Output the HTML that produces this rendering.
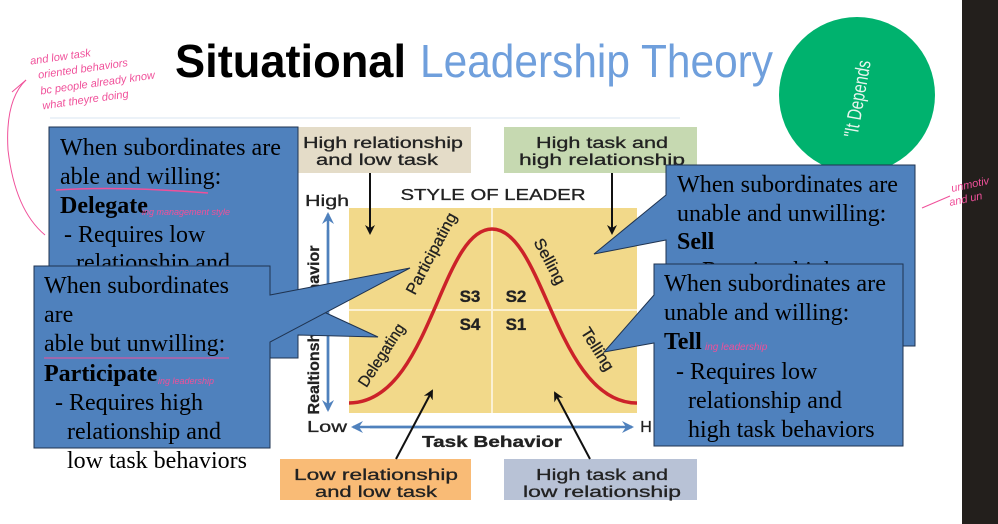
<!DOCTYPE html>
<html><head><meta charset="utf-8"><style>
html,body{margin:0;padding:0;background:#fff;}
svg{display:block;}
.t{font-family:"Liberation Serif",serif;font-size:24px;fill:#000;}
.s{font-family:"Liberation Sans",sans-serif;}
.p{font-family:"Liberation Sans",sans-serif;font-style:italic;fill:#f0509a;}
</style></head><body>
<svg width="998" height="524" viewBox="0 0 998 524" xmlns="http://www.w3.org/2000/svg">
<defs>
<marker id="ab" markerWidth="10" markerHeight="10" refX="8" refY="5" orient="auto" markerUnits="userSpaceOnUse"><path d="M0,0 L10,5 L0,10 L3,5z" fill="#111"/></marker>
<marker id="au" markerWidth="12" markerHeight="12" refX="10" refY="6" orient="auto" markerUnits="userSpaceOnUse"><path d="M0,0 L12,6 L0,12 L4,6z" fill="#4f81bd"/></marker>
</defs>
<rect x="962" y="0" width="36" height="524" fill="#231f1c"/>
<!-- title -->
<text x="175" y="77" class="s" font-size="46" font-weight="bold" textLength="231" lengthAdjust="spacingAndGlyphs">Situational</text>
<text x="420" y="77" class="s" font-size="46" fill="#6f9fdc" textLength="353" lengthAdjust="spacingAndGlyphs">Leadership Theory</text>
<line x1="50" y1="118" x2="680" y2="118" stroke="#e6edf5" stroke-width="1.5"/>
<circle cx="857" cy="95" r="78" fill="#00b26e"/>
<text x="0" y="0" class="s" font-size="20" fill="#e8f5ee" transform="translate(864,100) rotate(-80)" text-anchor="middle" textLength="78" lengthAdjust="spacingAndGlyphs">"It Depends</text>
<!-- handwriting -->
<g transform="rotate(-8 100 70)">
<text x="32" y="55" class="p" font-size="11">and low task</text>
<text x="38" y="70" class="p" font-size="11">oriented behaviors</text>
<text x="38" y="86" class="p" font-size="11">bc people already know</text>
<text x="38" y="101" class="p" font-size="11">what theyre doing</text>
</g>
<path d="M26,80 Q5,100 8,150 Q15,210 45,235" fill="none" stroke="#f0509a" stroke-width="1"/>
<path d="M12,92 L26,80" stroke="#f0509a" stroke-width="1"/>
<path d="M922,208 L950,196" stroke="#f0509a" stroke-width="1"/>
<text x="952" y="192" class="p" font-size="11" transform="rotate(-12 952 192)">unmotiv</text>
<text x="950" y="206" class="p" font-size="11" transform="rotate(-12 950 206)">and un</text>
<!-- diagram -->
<rect x="349" y="208" width="288" height="205" fill="#f2d98a"/>
<line x1="492" y1="208" x2="492" y2="413" stroke="#fbf1d4" stroke-width="2"/>
<line x1="349" y1="310" x2="637" y2="310" stroke="#fbf1d4" stroke-width="2"/>
<path d="M349,403 C430,403 440,229 492,229 C544,229 556,403 637,403" fill="none" stroke="#cc2229" stroke-width="3.5"/>
<rect x="298" y="127" width="173" height="46" fill="#e4dcc8"/>
<rect x="504" y="127" width="193" height="46" fill="#c6d9b1"/>
<rect x="280" y="459" width="191" height="41" fill="#f9bb76"/>
<rect x="504" y="459" width="193" height="41" fill="#b8c2d6"/>
<g class="s" font-size="16" fill="#222" text-anchor="middle" stroke="#222" stroke-width="0.3">
<text x="383" y="148" textLength="160" lengthAdjust="spacingAndGlyphs">High relationship</text><text x="377" y="165" textLength="122" lengthAdjust="spacingAndGlyphs">and low task</text>
<text x="602" y="148" textLength="132" lengthAdjust="spacingAndGlyphs">High task and</text><text x="602" y="165" textLength="166" lengthAdjust="spacingAndGlyphs">high relationship</text>
<text x="376" y="480" textLength="164" lengthAdjust="spacingAndGlyphs">Low relationship</text><text x="376" y="497" textLength="122" lengthAdjust="spacingAndGlyphs">and low task</text>
<text x="602" y="480" textLength="132" lengthAdjust="spacingAndGlyphs">High task and</text><text x="602" y="497" textLength="158" lengthAdjust="spacingAndGlyphs">low relationship</text>
<text x="493" y="200" textLength="185" lengthAdjust="spacingAndGlyphs">STYLE OF LEADER</text>
<text x="327" y="206" textLength="44" lengthAdjust="spacingAndGlyphs">High</text>
<text x="327" y="432" textLength="40" lengthAdjust="spacingAndGlyphs">Low</text>
<text x="492" y="447" font-weight="bold" textLength="140" lengthAdjust="spacingAndGlyphs">Task Behavior</text>
<text x="646" y="432">H</text>
<text x="470" y="302" font-weight="bold" font-size="17">S3</text><text x="516" y="302" font-weight="bold" font-size="17">S2</text>
<text x="470" y="330" font-weight="bold" font-size="17">S4</text><text x="516" y="330" font-weight="bold" font-size="17">S1</text>
<text transform="translate(436,256) rotate(-62)" textLength="90" lengthAdjust="spacingAndGlyphs">Participating</text>
<text transform="translate(545,264) rotate(62)" textLength="50" lengthAdjust="spacingAndGlyphs">Selling</text>
<text transform="translate(386,358) rotate(-57)" textLength="72" lengthAdjust="spacingAndGlyphs">Delegating</text>
<text transform="translate(593,352) rotate(58)" textLength="48" lengthAdjust="spacingAndGlyphs">Telling</text>
<text transform="translate(319,330) rotate(-90)" font-weight="bold">Realtionship Behavior</text>
</g>
<line x1="328" y1="400" x2="328" y2="214" stroke="#4f81bd" stroke-width="2.5" marker-end="url(#au)"/>
<line x1="328" y1="230" x2="328" y2="410" stroke="#4f81bd" stroke-width="2.5" marker-end="url(#au)"/>
<line x1="370" y1="427" x2="632" y2="427" stroke="#4f81bd" stroke-width="2.5" marker-end="url(#au)"/>
<line x1="620" y1="427" x2="353" y2="427" stroke="#4f81bd" stroke-width="2.5" marker-end="url(#au)"/>
<line x1="370" y1="173" x2="370" y2="233" stroke="#111" stroke-width="2" marker-end="url(#ab)"/>
<line x1="612" y1="173" x2="612" y2="233" stroke="#111" stroke-width="2" marker-end="url(#ab)"/>
<line x1="396" y1="459" x2="432" y2="391" stroke="#111" stroke-width="2" marker-end="url(#ab)"/>
<line x1="590" y1="459" x2="555" y2="393" stroke="#111" stroke-width="2" marker-end="url(#ab)"/>
<!-- callout 1 Delegate -->
<path d="M49,127 H298 V300 L378,337 L298,335 V358 H49 Z" fill="#4f81bd" stroke="#1f3350" stroke-width="1"/>
<g class="t">
<text x="60" y="155" textLength="221" lengthAdjust="spacingAndGlyphs">When subordinates are</text>
<text x="60" y="184">able and willing:</text>
<text x="60" y="213" font-weight="bold">Delegate</text>
<text x="64" y="242">- Requires low</text>
<text x="76" y="270">relationship and</text>
</g>
<path d="M56,190 Q120,186 208,193" fill="none" stroke="#f0509a" stroke-width="1.5"/>
<text x="142" y="215" class="p" font-size="9">ing management style</text>
<!-- callout 2 Participate -->
<path d="M34,266 H270 V295 L410,268 L270,342 V448 H34 Z" fill="#4f81bd" stroke="#1f3350" stroke-width="1"/>
<g class="t">
<text x="44" y="293" textLength="185" lengthAdjust="spacingAndGlyphs">When subordinates</text>
<text x="44" y="322">are</text>
<text x="44" y="351">able but unwilling:</text>
<text x="44" y="381" font-weight="bold">Participate</text>
<text x="55" y="410">- Requires high</text>
<text x="67" y="439">relationship and</text>
<text x="67" y="468">low task behaviors</text>
</g>
<line x1="44" y1="358" x2="229" y2="358" stroke="#f0509a" stroke-width="1"/>
<text x="158" y="384" class="p" font-size="9">ing leadership</text>
<!-- callout 3 Sell -->
<path d="M666,165 H915 V346 H666 V240 L594,254 L666,195 Z" fill="#4f81bd" stroke="#1f3350" stroke-width="1"/>
<g class="t">
<text x="677" y="192" textLength="221" lengthAdjust="spacingAndGlyphs">When subordinates are</text>
<text x="677" y="221">unable and unwilling:</text>
<text x="677" y="249" font-weight="bold">Sell</text>
<text x="688" y="278">- Requires high</text>
</g>
<!-- callout 4 Tell -->
<path d="M654,264 H903 V446 H654 V343 L604,352 L654,295 Z" fill="#4f81bd" stroke="#1f3350" stroke-width="1"/>
<g class="t">
<text x="664" y="291" textLength="222" lengthAdjust="spacingAndGlyphs">When subordinates are</text>
<text x="664" y="320">unable and willing:</text>
<text x="664" y="349" font-weight="bold">Tell</text>
<text x="676" y="379">- Requires low</text>
<text x="688" y="408">relationship and</text>
<text x="688" y="437">high task behaviors</text>
</g>
<text x="705" y="350" class="p" font-size="10">ing  leadership</text>
</svg>
</body></html>
